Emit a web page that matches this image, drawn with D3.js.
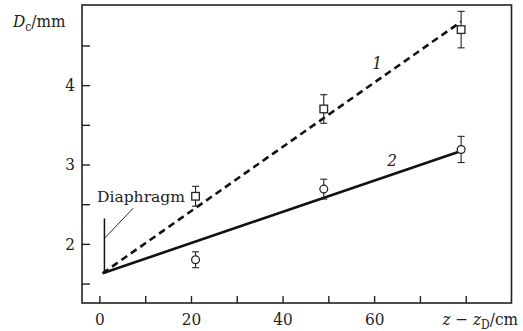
<!DOCTYPE html>
<html>
<head>
<meta charset="utf-8">
<script src="https://cdn.jsdelivr.net/npm/d3@7"></script>
<style>
  body { margin: 0; background: #fff; }
</style>
</head>
<body>
<div id="chart"></div>
<script>
// data
const zValues = [21, 49, 79];
const series1 = [2.60, 3.70, 4.70];   // squares
const series1Err = [0.125, 0.18, 0.23];
const series2 = [1.80, 2.69, 3.19];   // circles
const series2Err = [0.10, 0.125, 0.165];
// fitted lines
const line1 = [[0.7, 1.63], [79, 4.80]];
const line2 = [[0.7, 1.63], [79, 3.17]];
const diaphragm = [[1.1, 1.63], [1.1, 2.32]];

const xTicks = [0, 20, 40, 60];
const xMinor = [0, 10, 20, 30, 40, 50, 60, 70, 80];
const yTicks = [2, 3, 4];
const yMinor = [1.5, 2, 2.5, 3, 3.5, 4, 4.5];

const W = 523, H = 331;
const m = { left: 82, right: 11.5, top: 5, bottom: 28 };
const FONT = '"DejaVu Serif Condensed", "DejaVu Serif", serif';

const svg = d3.select('#chart').append('svg')
  .attr('width', W).attr('height', H);

const x = d3.scaleLinear().domain([-3.8, 90]).range([m.left, W - m.right]);
const y = d3.scaleLinear().domain([1.255, 5.01]).range([H - m.bottom, m.top]);

// frame
svg.append('rect')
  .attr('x', m.left).attr('y', m.top)
  .attr('width', W - m.right - m.left).attr('height', H - m.bottom - m.top)
  .attr('fill', 'none').attr('stroke', '#222').attr('stroke-width', 1.6);

// ticks (inward)
const xAxis = d3.axisBottom(x).tickValues(xMinor).tickSizeInner(-7).tickSizeOuter(0)
  .tickFormat(d => xTicks.includes(d) ? d : '');
const gx = svg.append('g').attr('transform', `translate(0,${H - m.bottom})`).call(xAxis)
  .attr('font-family', FONT);
gx.select('.domain').remove();
gx.selectAll('line').attr('stroke', '#222').attr('stroke-width', 1.4);
gx.selectAll('text').attr('font-size', 17).attr('fill', '#222').attr('dy', '1.1em');

const yAxis = d3.axisLeft(y).tickValues(yMinor).tickSizeInner(-8).tickSizeOuter(0)
  .tickFormat(d => yTicks.includes(d) ? d : '');
const gy = svg.append('g').attr('transform', `translate(${m.left},0)`).call(yAxis)
  .attr('font-family', FONT);
gy.select('.domain').remove();
gy.selectAll('line').attr('stroke', '#222').attr('stroke-width', 1.4);
gy.selectAll('text').attr('font-size', 17).attr('fill', '#222').attr('x', -7);

// axis titles
const yt = svg.append('text').attr('x', 13).attr('y', 27).attr('font-size', 17)
  .attr('font-family', FONT).attr('fill', '#222');
yt.append('tspan').attr('font-style', 'italic').text('D');
yt.append('tspan').attr('font-size', 12).attr('dy', 4).text('c');
yt.append('tspan').attr('dy', -4).text('/mm');

const xt = svg.append('text').attr('x', 518).attr('y', 325).attr('text-anchor', 'end')
  .attr('font-family', FONT).attr('font-size', 17).attr('fill', '#222');
xt.append('tspan').attr('font-style', 'italic').text('z');
xt.append('tspan').text(' \u2212 ');
xt.append('tspan').attr('font-style', 'italic').text('z');
xt.append('tspan').attr('font-size', 12).attr('dy', 4).text('D');
xt.append('tspan').attr('dy', -4).text('/cm');

const lineGen = d3.line().x(d => x(d[0])).y(d => y(d[1]));

// lines
svg.append('path').attr('d', lineGen(line1)).attr('fill', 'none')
  .attr('stroke', '#111').attr('stroke-width', 2.6).attr('stroke-dasharray', '7,4.5');
svg.append('path').attr('d', lineGen(line2)).attr('fill', 'none')
  .attr('stroke', '#111').attr('stroke-width', 2.6);

// diaphragm marker
svg.append('path').attr('d', lineGen(diaphragm)).attr('fill', 'none')
  .attr('stroke', '#111').attr('stroke-width', 1.5);
svg.append('line')
  .attr('x1', x(1.1)).attr('y1', y(2.07))
  .attr('x2', x(7.4)).attr('y2', y(2.45))
  .attr('stroke', '#111').attr('stroke-width', 0.9);
svg.append('text').attr('x', 97).attr('y', 202).attr('font-size', 15.5)
  .attr('font-family', FONT).attr('fill', '#222')
  .attr('textLength', 88).attr('lengthAdjust', 'spacingAndGlyphs')
  .text('Diaphragm');

// error bars and markers
function drawPoints(vals, errs, shape) {
  const g = svg.append('g');
  zValues.forEach((z, i) => {
    const cx = x(z), cy = y(vals[i]);
    const top = y(vals[i] + errs[i]), bot = y(vals[i] - errs[i]);
    g.append('line').attr('x1', cx).attr('x2', cx).attr('y1', top).attr('y2', bot)
      .attr('stroke', '#222').attr('stroke-width', 1.1);
    [top, bot].forEach(yy => g.append('line')
      .attr('x1', cx - 3.5).attr('x2', cx + 3.5).attr('y1', yy).attr('y2', yy)
      .attr('stroke', '#222').attr('stroke-width', 1.1));
    if (shape === 'square') {
      g.append('rect').attr('x', cx - 3.8).attr('y', cy - 3.8).attr('width', 7.6).attr('height', 7.6)
        .attr('fill', '#fff').attr('stroke', '#222').attr('stroke-width', 1.3);
    } else {
      g.append('circle').attr('cx', cx).attr('cy', cy).attr('r', 3.9)
        .attr('fill', '#fff').attr('stroke', '#222').attr('stroke-width', 1.3);
    }
  });
}
drawPoints(series1, series1Err, 'square');
drawPoints(series2, series2Err, 'circle');

// curve labels
svg.append('text').attr('x', 377).attr('y', 69).attr('text-anchor', 'middle')
  .attr('font-family', FONT)
  .attr('font-size', 17).attr('font-style', 'italic').attr('fill', '#222').text('1');
svg.append('text').attr('x', 392).attr('y', 166).attr('text-anchor', 'middle')
  .attr('font-family', FONT)
  .attr('font-size', 17).attr('font-style', 'italic').attr('fill', '#222').text('2');
</script>
</body>
</html>
